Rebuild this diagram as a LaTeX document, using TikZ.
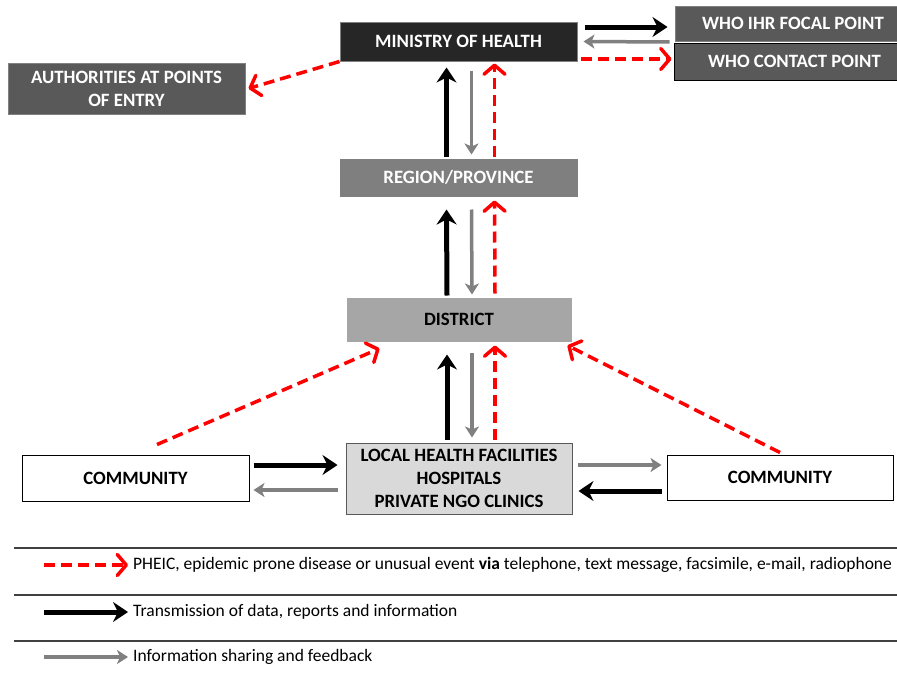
\documentclass[tikz,border=0pt]{standalone}
\usepackage{fontspec}
\setmainfont{Carlito}
\usetikzlibrary{arrows.meta}

\definecolor{alertred}{RGB}{255,0,0}
\definecolor{fbgray}{RGB}{128,128,128}
\definecolor{boxdark}{RGB}{38,38,38}
\definecolor{boxmid}{RGB}{89,89,89}
\definecolor{boxreg}{RGB}{127,127,127}
\definecolor{boxdist}{RGB}{166,166,166}
\definecolor{boxlocal}{RGB}{217,217,217}
\definecolor{rulegray}{RGB}{64,64,64}

\begin{document}
\begin{tikzpicture}[x=1pt,y=-1pt,
    box/.style={rectangle,draw,line width=1pt,inner sep=0pt,align=center,font=\fontsize{18.8}{23}\selectfont\bfseries},
    whitebox/.style={box,fill=boxmid,draw=fbgray,text=white},
    tx/.style={draw=black,line width=5pt,-{Stealth[length=15pt,width=20pt,inset=5pt]}},
    fb/.style={draw=fbgray,line width=3.5pt,-{Stealth[length=11pt,width=14pt,inset=3pt]}},
    alert/.style={draw=alertred,line width=3.5pt,dash pattern=on 11pt off 6pt,-{Straight Barb[length=9pt,width=21pt,round]}},
    legend/.style={anchor=west,inner sep=5pt,font=\fontsize{17.5}{20}\selectfont}]
    \useasboundingbox (0,0) rectangle (897,680);

    % boxes
    \node[box,fill=boxdark,draw=fbgray,text=white,minimum width=237pt,minimum height=39pt] (moh) at (458.5,41.5) {MINISTRY OF HEALTH};
    \node[whitebox,minimum width=237pt,minimum height=51pt] (poe) at (126.5,88.5) {AUTHORITIES AT POINTS\\OF ENTRY};
    \node[whitebox,minimum width=222pt,minimum height=35pt] (ihr) at (786,23.5) {\hspace*{14pt}WHO IHR FOCAL POINT};
    \node[whitebox,draw=black,minimum width=223pt,minimum height=37pt] (wcp) at (785.5,61.5) {\hspace*{18pt}WHO CONTACT POINT};
    \node[box,fill=boxreg,draw=boxreg,text=white,minimum width=237pt,minimum height=37pt] (region) at (458.5,177.5) {REGION/PROVINCE};
    \node[box,fill=boxdist,draw=boxdist,minimum width=224pt,minimum height=43pt] (district) at (459,319.5) {DISTRICT};
    \node[box,fill=boxlocal,draw=boxmid,minimum width=226pt,minimum height=71pt] (local) at (459,478.5) {LOCAL HEALTH FACILITIES\\HOSPITALS\\PRIVATE NGO CLINICS};
    \node[box,fill=white,draw=black,minimum width=227pt,minimum height=46pt] (comL) at (135.5,478) {COMMUNITY};
    \node[box,fill=white,draw=black,minimum width=226pt,minimum height=45pt] (comR) at (780,477.5) {COMMUNITY};

    % ministry and WHO
    \draw[tx] ([xshift=7pt,yshift=14.5pt]moh.east) -- ([xshift=-7pt,yshift=-3.5pt]ihr.west);
    \draw[fb] ([xshift=-5pt,yshift=-18.5pt]ihr.west) -- ([xshift=6pt]moh.east);
    \draw[alert] ([xshift=3pt,yshift=-17.5pt]moh.east) -- ([xshift=-2pt,yshift=2.5pt]wcp.west);
    \draw[alert] (moh.south west) -- ([xshift=3pt]poe.east);

    % region - ministry
    \draw[tx] ([xshift=-12pt,yshift=2pt]region.north) -- ([xshift=-12pt,yshift=-6pt]moh.south);
    \draw[fb] ([xshift=13pt,yshift=-9pt]moh.south) -- ([xshift=13pt,yshift=4pt]region.north);
    \draw[alert] ([xshift=36pt,yshift=2pt]region.north) -- ([xshift=36pt,yshift=-2pt]moh.south);

    % district - region
    \draw[tx] ([xshift=-12pt,yshift=2pt]district.north) -- ([xshift=-12pt,yshift=-13pt]region.south);
    \draw[fb] ([xshift=13pt,yshift=-13pt]region.south) -- ([xshift=13pt,yshift=3pt]district.north);
    \draw[alert] ([xshift=36pt,yshift=4pt]district.north) -- ([xshift=36pt,yshift=-4pt]region.south);

    % local - district
    \draw[tx] ([xshift=-12pt,yshift=3pt]local.north) -- ([xshift=-12pt,yshift=-13pt]district.south);
    \draw[fb] ([xshift=13pt,yshift=-11pt]district.south) -- ([xshift=13pt,yshift=5pt]local.north);
    \draw[alert] ([xshift=36pt,yshift=3pt]local.north) -- ([xshift=36pt,yshift=-4pt]district.south);

    % communities
    \draw[alert] ([xshift=21.5pt,yshift=10pt]comL.north) -- ([xshift=33pt,yshift=-7pt]district.south west);
    \draw[alert] ([yshift=2pt]comR.north) -- ([xshift=-4pt,yshift=-4pt]district.south east);
    \draw[tx] ([xshift=4pt,yshift=13pt]comL.east) -- ([xshift=-8pt,yshift=13.5pt]local.west);
    \draw[fb] ([xshift=-8pt,yshift=-11.5pt]local.west) -- ([xshift=4pt,yshift=-12pt]comL.east);
    \draw[fb] ([xshift=5pt,yshift=13.5pt]local.east) -- ([xshift=-5pt,yshift=12.5pt]comR.west);
    \draw[tx] ([xshift=-5pt,yshift=-13.5pt]comR.west) -- ([xshift=6pt,yshift=-12.5pt]local.east);

    % legend
    \foreach \y in {548,595,641}
        \draw[rulegray,line width=1.5pt] (14,\y) -- (897,\y);
    \node[legend] (t1) at (128,565) {PHEIC, epidemic prone disease or unusual event \textbf{via} telephone, text message, facsimile, e-mail, radiophone};
    \node[legend] (t2) at (128,612) {Transmission of data, reports and information};
    \node[legend] (t3) at (128,657) {Information sharing and feedback};
    \coordinate (s1) at (44,565);
    \coordinate (s2) at (44,612);
    \coordinate (s3) at (44,657);
    \draw[alert] (s1) -- (t1.west);
    \draw[tx] (s2) -- (t2.west);
    \draw[fb] (s3) -- (t3.west);
\end{tikzpicture}
\end{document}
